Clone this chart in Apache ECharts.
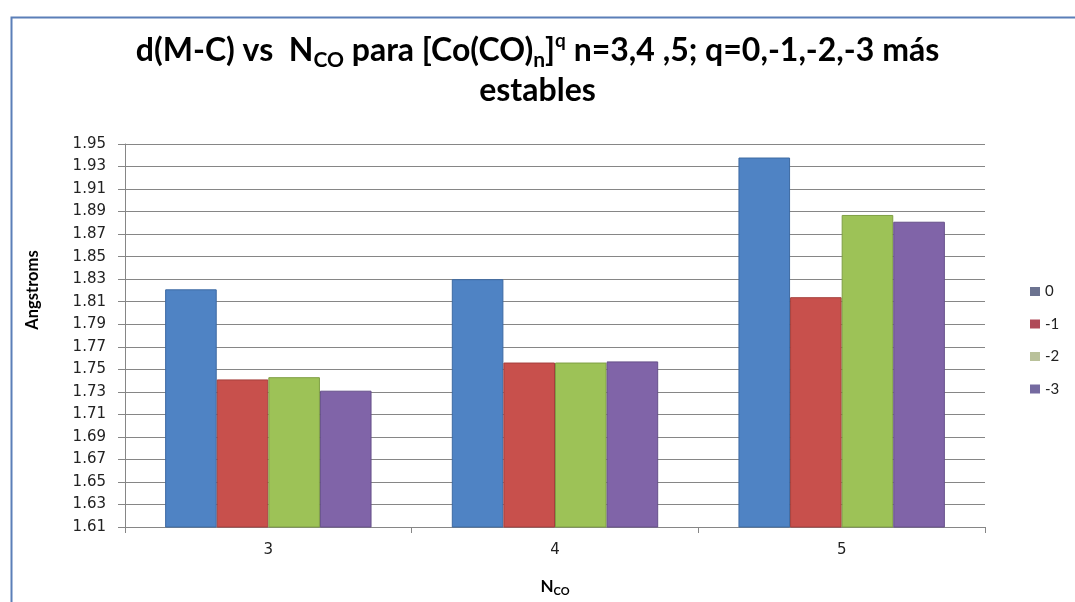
<!DOCTYPE html>
<html>
<head>
<meta charset="utf-8">
<script src="https://cdn.jsdelivr.net/npm/echarts@6/dist/echarts.min.js"></script>
<style>
html,body{margin:0;padding:0;background:#fff;}
#c{width:1075px;height:602px;}
</style>
</head>
<body>
<div id="c"></div>
<script>
var categories = ['3', '4', '5'];
var seriesNames = ['0', '-1', '-2', '-3'];
var q0 = [1.821, 1.830, 1.938];
var q1 = [1.741, 1.756, 1.814];
var q2 = [1.743, 1.756, 1.887];
var q3 = [1.731, 1.757, 1.881];
var yMin = 1.61, yMax = 1.95, yStep = 0.02;

var fills = ['#4f83c4', '#c8504c', '#9dc257', '#8064a8'];
var edges = ['#3d6aa3', '#a53f3c', '#7f9f44', '#66508a'];
var legendColors = ['#6c7390', '#b04a58', '#b9c19a', '#756aa0'];
var values = [q0, q1, q2, q3];

var chart = echarts.init(document.getElementById('c'), null, {renderer: 'canvas'});
var series = seriesNames.map(function (n, i) {
  return {
    name: n, type: 'bar', data: values[i],
    barGap: '0%', barCategoryGap: '28%',
    itemStyle: {color: fills[i], borderColor: edges[i], borderWidth: 1}
  };
});

chart.setOption({
  animation: false,
  backgroundColor: '#fff',
  title: {
    left: 'center', top: 26,
    text: '{t|d(M-C) vs  N}{sub|CO}{t| para [Co(CO)}{sub|n}{t|]}{sup|q}{t| n=3,4 ,5; q=0,-1,-2,-3 más}\n{t|estables}',
    textStyle: {
      rich: {
        t: {fontFamily: 'Lato', fontWeight: 'bold', fontSize: 32, color: '#000', lineHeight: 40},
        sub: {fontFamily: 'Lato', fontWeight: 'bold', fontSize: 21, color: '#000', lineHeight: 22, verticalAlign: 'bottom'},
        sup: {fontFamily: 'Lato', fontWeight: 'bold', fontSize: 19, color: '#000', lineHeight: 22, verticalAlign: 'top'}
      }
    }
  },
  legend: {
    orient: 'vertical', left: 1025, top: 279,
    itemWidth: 10, itemHeight: 9, itemGap: 17.5,
    icon: 'rect',
    textStyle: {fontFamily: 'Lato', fontSize: 15, color: '#222', lineHeight: 15},
    data: seriesNames.map(function (n, i) {
      return {name: n, itemStyle: {color: legendColors[i], borderWidth: 0}};
    })
  },
  grid: {left: 125, right: 90, top: 144, bottom: 57, containLabel: false},
  xAxis: {
    type: 'category', data: categories,
    name: '{b|N}{s|CO}', nameLocation: 'middle', nameGap: 50,
    nameTextStyle: {
      rich: {
        b: {fontFamily: 'Lato', fontWeight: 'bold', fontSize: 17, color: '#000', lineHeight: 20},
        s: {fontFamily: 'Lato', fontWeight: 'bold', fontSize: 11, color: '#000', lineHeight: 12, verticalAlign: 'bottom'}
      }
    },
    axisLine: {lineStyle: {color: '#868686', width: 1}},
    axisTick: {show: true, alignWithLabel: false, length: 6, lineStyle: {color: '#868686'}},
    axisLabel: {fontFamily: 'DejaVu Sans', fontSize: 15, color: '#222', margin: 16},
    splitLine: {show: false}
  },
  yAxis: {
    type: 'value', min: yMin, max: yMax, interval: yStep,
    axisLine: {show: true, lineStyle: {color: '#868686', width: 1}},
    axisTick: {show: true, length: 7, lineStyle: {color: '#868686'}},
    axisLabel: {fontFamily: 'DejaVu Sans', fontSize: 15, color: '#222', margin: 19,
      formatter: function (v) { return v.toFixed(2); }},
    splitLine: {show: true, lineStyle: {color: '#868686', width: 1}}
  },
  graphic: [
    {type: 'rect', left: 9, top: 15, shape: {x: 0, y: 0, width: 1100, height: 620},
     style: {fill: null, stroke: '#5b7fb8', lineWidth: 2}, silent: true},
    {type: 'text', x: 33, y: 290, rotation: Math.PI / 2,
     style: {text: 'Angstroms', fontFamily: 'Lato', fontWeight: 'bold', fontSize: 16.5, fill: '#000',
       align: 'center', verticalAlign: 'middle'}}
  ],
  series: series
});
</script>
</body>
</html>
